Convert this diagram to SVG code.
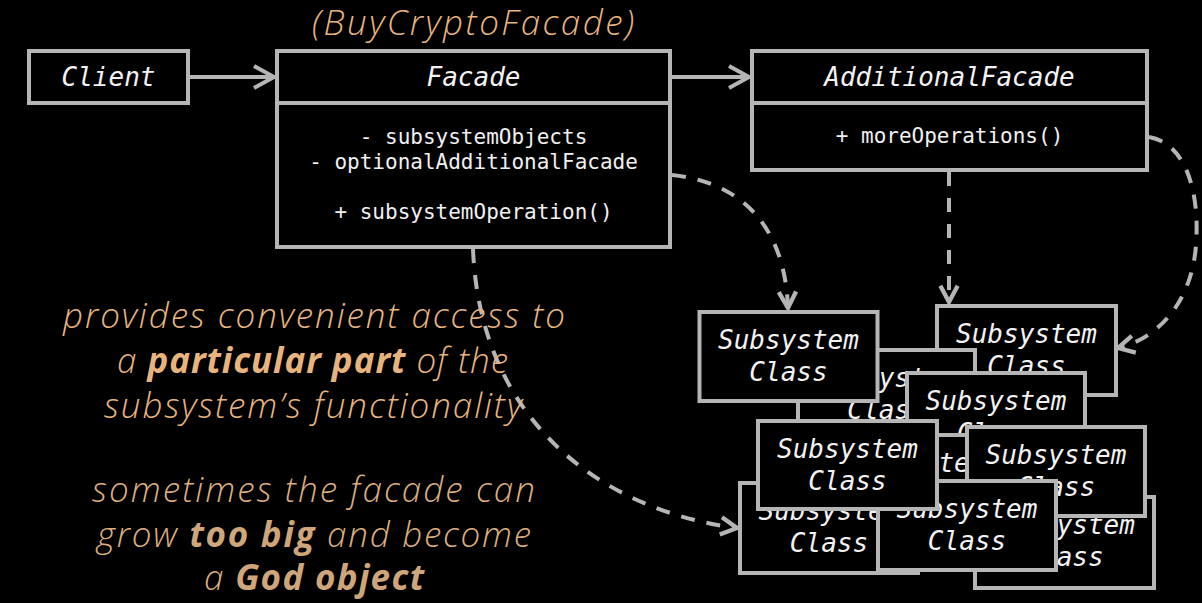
<svg xmlns="http://www.w3.org/2000/svg" width="1202" height="603" viewBox="0 0 1202 603">
<defs>
<style>
.box{fill:#000;stroke:#b5b5b5;stroke-width:4}
.hd{font-family:"DejaVu Sans Mono","Liberation Mono",monospace;font-style:italic;font-size:26px;fill:#f2f2f2;text-anchor:middle}
.bd{font-family:"DejaVu Sans Mono","Liberation Mono",monospace;font-size:21px;fill:#f0f0f0;text-anchor:middle}
.conn{fill:none;stroke:#b5b5b5;stroke-width:4}
.dash{stroke-dasharray:14 12}
.note{font-family:"Open Sans","Lato",sans-serif;font-style:italic;font-weight:300;font-size:35px;fill:#e8b47e;text-anchor:middle}
.b{font-weight:700}
.low{fill:#dcae7e}
.low .b{fill:#cfa57a}
</style>
<marker id="open" markerUnits="userSpaceOnUse" markerWidth="30" markerHeight="30" viewBox="-24 -15 28 30" refX="0" refY="0" orient="auto">
<path d="M-20,-11 L0,0 L-20,11" fill="none" stroke="#b5b5b5" stroke-width="4" stroke-dasharray="none"/>
</marker>
<marker id="openS" markerUnits="userSpaceOnUse" markerWidth="26" markerHeight="26" viewBox="-19 -12 22 24" refX="0" refY="0" orient="auto">
<path d="M-15,-8 L0,0 L-15,8" fill="none" stroke="#b5b5b5" stroke-width="4" stroke-dasharray="none"/>
</marker>
</defs>
<rect x="0" y="0" width="1202" height="603" fill="#000"/>

<text class="note" x="473" y="35" textLength="322">(BuyCryptoFacade)</text>

<g id="client">
<rect class="box" x="29" y="51" width="159" height="52"/>
<text class="hd" x="108.5" y="86">Client</text>
</g>

<g id="facade">
<rect class="box" x="277" y="51" width="393" height="196"/>
<line x1="277" y1="103" x2="670" y2="103" stroke="#b5b5b5" stroke-width="4"/>
<text class="hd" x="473.5" y="86">Facade</text>
<text class="bd" x="473.5" y="144">- subsystemObjects</text>
<text class="bd" x="473.5" y="169">- optionalAdditionalFacade</text>
<text class="bd" x="473.5" y="219">+ subsystemOperation()</text>
</g>

<g id="additional-facade">
<rect class="box" x="752" y="51" width="395" height="119"/>
<line x1="752" y1="103" x2="1147" y2="103" stroke="#b5b5b5" stroke-width="4"/>
<text class="hd" x="949.5" y="86">AdditionalFacade</text>
<text class="bd" x="949.5" y="143">+ moreOperations()</text>
</g>

<g id="connectors">
<line class="conn" x1="188" y1="77" x2="274" y2="77" marker-end="url(#open)"/>
<line class="conn" x1="670" y1="77" x2="749" y2="77" marker-end="url(#open)"/>
<path class="conn dash" d="M672,175 C740,182 785,225 788,308" marker-end="url(#openS)"/>
<path class="conn dash" d="M949,172 L949,302" marker-end="url(#openS)"/>
<path class="conn dash" d="M1149,137 C1185,143 1200,190 1196,245 C1192,300 1160,338 1118,348" marker-end="url(#openS)"/>
<path class="conn dash" d="M473,249 C480,420 600,510 737,528" marker-end="url(#openS)"/>
</g>

<g id="subsystem-8">
<rect class="box" x="975" y="497" width="179" height="91"/>
<text class="hd" x="1064.5" y="534">Subsystem</text>
<text class="hd" x="1064.5" y="566">Class</text>
</g>
<g id="subsystem-2">
<rect class="box" x="937" y="306" width="179" height="89"/>
<text class="hd" x="1026.5" y="343">Subsystem</text>
<text class="hd" x="1026.5" y="375">Class</text>
</g>
<g id="subsystem-3">
<rect class="box" x="798" y="350" width="177" height="89"/>
<text class="hd" x="886.5" y="387">Subsystem</text>
<text class="hd" x="886.5" y="419">Class</text>
</g>
<g id="subsystem-4">
<rect class="box" x="907" y="373" width="178" height="89"/>
<text class="hd" x="996" y="410">Subsystem</text>
<text class="hd" x="996" y="442">Class</text>
</g>
<g id="subsystem-5">
<rect class="box" x="826" y="435" width="178" height="89"/>
<text class="hd" x="915" y="472">Subsystem</text>
<text class="hd" x="915" y="504">Class</text>
</g>
<g id="subsystem-7">
<rect class="box" x="740" y="483" width="178" height="90"/>
<text class="hd" x="829" y="520">Subsystem</text>
<text class="hd" x="829" y="552">Class</text>
</g>
<g id="subsystem-6">
<rect class="box" x="967" y="427" width="178" height="89"/>
<text class="hd" x="1056" y="464">Subsystem</text>
<text class="hd" x="1056" y="496">Class</text>
</g>
<g id="subsystem-9">
<rect class="box" x="878" y="481" width="178" height="89"/>
<text class="hd" x="967" y="518">Subsystem</text>
<text class="hd" x="967" y="550">Class</text>
</g>
<g id="subsystem-1">
<rect class="box" x="699.5" y="312" width="178" height="89"/>
<text class="hd" x="788.5" y="349">Subsystem</text>
<text class="hd" x="788.5" y="381">Class</text>
</g>
<g id="subsystem-10">
<rect class="box" x="758" y="421" width="179" height="88"/>
<text class="hd" x="847.5" y="458">Subsystem</text>
<text class="hd" x="847.5" y="490">Class</text>
</g>

<g id="notes">
<text class="note" x="314" y="328" textLength="502">provides convenient access to</text>
<text class="note" x="312.5" y="373" textLength="391">a <tspan class="b">particular part</tspan> of the</text>
<text class="note" x="313" y="418" textLength="418">subsystem’s functionality</text>
<text class="note low" x="313.5" y="502" textLength="443">sometimes the facade can</text>
<text class="note low" x="314" y="547" textLength="434">grow <tspan class="b">too big</tspan> and become</text>
<text class="note low" x="314" y="590" textLength="220">a <tspan class="b">God object</tspan></text>
</g>
</svg>
